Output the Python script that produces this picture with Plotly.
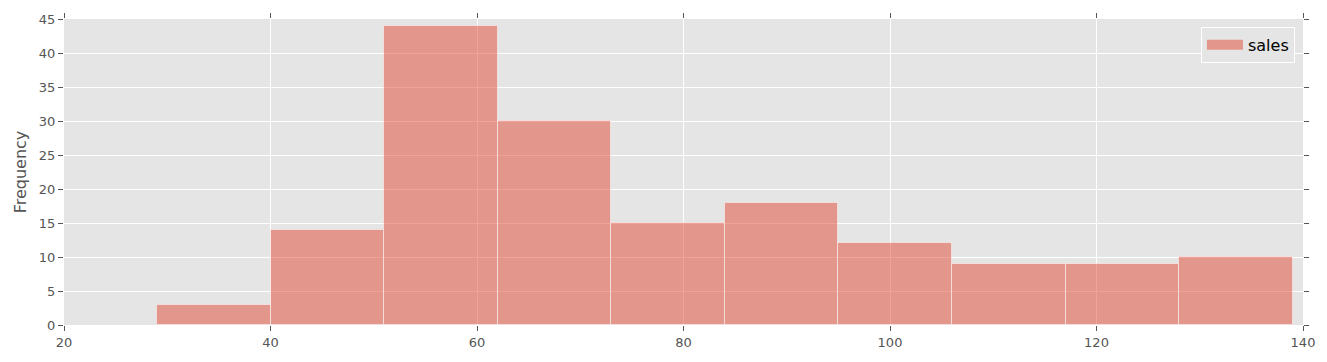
import plotly.graph_objects as go

bin_edges = [29, 40, 51, 62, 73, 84, 95, 106, 117, 128, 139]
counts = [3, 14, 44, 30, 15, 18, 12, 9, 9, 10]
x_ticks = [20, 40, 60, 80, 100, 120, 140]
y_ticks = [0, 5, 10, 15, 20, 25, 30, 35, 40, 45]

centers = [(a + b) / 2 for a, b in zip(bin_edges[:-1], bin_edges[1:])]
widths = [b - a for a, b in zip(bin_edges[:-1], bin_edges[1:])]

bar_color = "rgba(226,74,51,0.5)"

fig = go.Figure()
fig.add_trace(go.Bar(
    x=centers, y=counts, width=widths, name="sales",
    marker=dict(color=bar_color,
                line=dict(color="rgba(255,255,255,0.5)", width=1)),
    showlegend=False,
))
# legend entry drawn as a wide patch (like matplotlib)
fig.add_trace(go.Scatter(
    x=[None], y=[None], mode="lines", name="sales",
    line=dict(color=bar_color, width=11),
    showlegend=True,
))

axis_common = dict(
    showgrid=True, gridcolor="white", gridwidth=1,
    zeroline=False, ticks="outside", ticklen=5, tickcolor="#555555",
    tickfont=dict(family="DejaVu Sans", size=13, color="#555555"),
    mirror="ticks", showline=False,
)

fig.update_layout(
    width=1327, height=362,
    margin=dict(l=64, r=23, t=17, b=36),
    paper_bgcolor="white", plot_bgcolor="#E5E5E5",
    bargap=0,
    font=dict(family="DejaVu Sans", size=13, color="#555555"),
    xaxis=dict(range=[20, 140], tickvals=x_ticks, **axis_common),
    yaxis=dict(range=[0, 45], tickvals=y_ticks,
               title=dict(text="Frequency", font=dict(size=16, color="#555555"), standoff=8),
               **axis_common),
    legend=dict(x=0.9935, y=0.974, xanchor="right", yanchor="top",
                bgcolor="#E5E5E5", bordercolor="white", borderwidth=1,
                itemwidth=36,
                font=dict(family="DejaVu Sans", size=16, color="black")),
)

fig.write_html("out.html")
